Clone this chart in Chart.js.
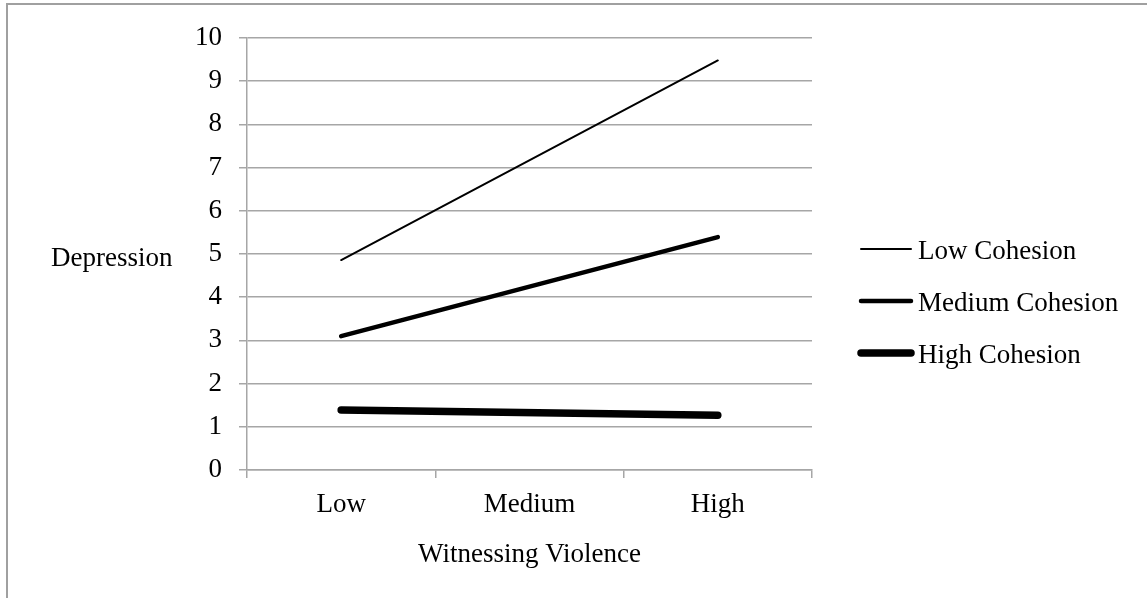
<!DOCTYPE html>
<html>
<head>
<meta charset="utf-8">
<script src="https://cdn.jsdelivr.net/npm/chart.js@4"></script>
<style>
  html, body { margin: 0; padding: 0; background: #ffffff; }
  #wrap { position: absolute; left: 0; top: 0; width: 1147px; height: 598px; }
</style>
</head>
<body>
<div id="wrap"><canvas id="c" width="1147" height="598"></canvas></div>
<script>
// ---- data ----
const categories = ['Low', 'Medium', 'High'];
const seriesNames = ['Low Cohesion', 'Medium Cohesion', 'High Cohesion'];
const lowCohesion = [4.86, null, 9.48];
const mediumCohesion = [3.1, null, 5.39];
const highCohesion = [1.39, null, 1.27];
const yTicks = [0, 1, 2, 3, 4, 5, 6, 7, 8, 9, 10];
const xTitle = 'Witnessing Violence';
const yTitle = 'Depression';

const FONT = "'Liberation Serif', 'Times New Roman', serif";
const GRID = '#a6a6a6';

const frame = {
  id: 'frame',
  beforeDraw(chart) {
    const ctx = chart.ctx;
    ctx.save();
    ctx.fillStyle = '#ffffff';
    ctx.fillRect(0, 0, chart.width, chart.height);
    ctx.strokeStyle = '#a0a0a0';
    ctx.lineWidth = 2;
    ctx.beginPath();
    ctx.moveTo(7, chart.height + 2);
    ctx.lineTo(7, 4);
    ctx.lineTo(chart.width + 2, 4);
    ctx.stroke();
    ctx.restore();
  }
};

const labelsPlugin = {
  id: 'labelsPlugin',
  afterDraw(chart) {
    const ctx = chart.ctx;
    const area = chart.chartArea;
    ctx.save();
    ctx.fillStyle = '#000000';
    ctx.font = '27px ' + FONT;
    ctx.textBaseline = 'alphabetic';
    // y title (horizontal)
    ctx.textAlign = 'left';
    ctx.fillText(yTitle, 51, 266);
    // x title
    ctx.textAlign = 'center';
    ctx.fillText(xTitle, (area.left + area.right) / 2, 562);
    // legend
    const ys = [249, 301, 353];
    chart.data.datasets.forEach((ds, i) => {
      ctx.strokeStyle = ds.borderColor;
      ctx.lineWidth = ds.borderWidth;
      ctx.lineCap = 'round';
      ctx.beginPath();
      ctx.moveTo(861, ys[i]);
      ctx.lineTo(911, ys[i]);
      ctx.stroke();
      ctx.textAlign = 'left';
      ctx.fillText(ds.label, 918, ys[i] + 10);
    });
    ctx.restore();
  }
};

new Chart(document.getElementById('c'), {
  type: 'line',
  data: {
    labels: categories,
    datasets: [
      { label: seriesNames[0], data: lowCohesion, borderColor: '#000000', borderWidth: 2 },
      { label: seriesNames[1], data: mediumCohesion, borderColor: '#000000', borderWidth: 4.5 },
      { label: seriesNames[2], data: highCohesion, borderColor: '#000000', borderWidth: 7.5 }
    ]
  },
  options: {
    responsive: false,
    animation: false,
    spanGaps: true,
    layout: { padding: { left: 0, right: 335, top: 38, bottom: 0 } },
    elements: {
      point: { radius: 0, hoverRadius: 0 },
      line: { tension: 0, borderCapStyle: 'round', borderJoinStyle: 'round' }
    },
    plugins: {
      legend: { display: false },
      tooltip: { enabled: false },
      title: { display: false }
    },
    scales: {
      x: {
        type: 'category',
        offset: true,
        grid: {
          offset: true,
          drawOnChartArea: false,
          drawTicks: true,
          tickLength: 8,
          color: GRID,
          lineWidth: 1.5
        },
        border: { display: true, color: GRID, width: 1.5 },
        ticks: {
          color: '#000000',
          font: { family: FONT, size: 27 },
          padding: 11,
          maxRotation: 0
        },
        afterFit(scale) { scale.height = 128; }
      },
      y: {
        min: 0,
        max: 10,
        afterBuildTicks(scale) { scale.ticks = yTicks.map(v => ({ value: v })); },
        grid: {
          color: GRID,
          lineWidth: 1.5,
          drawTicks: true,
          tickLength: 8
        },
        border: { display: true, color: GRID, width: 1.5 },
        ticks: {
          color: '#000000',
          font: { family: FONT, size: 27 },
          padding: 17
        },
        afterFit(scale) { scale.width = 247; }
      }
    }
  },
  plugins: [frame, labelsPlugin]
});
</script>
</body>
</html>
